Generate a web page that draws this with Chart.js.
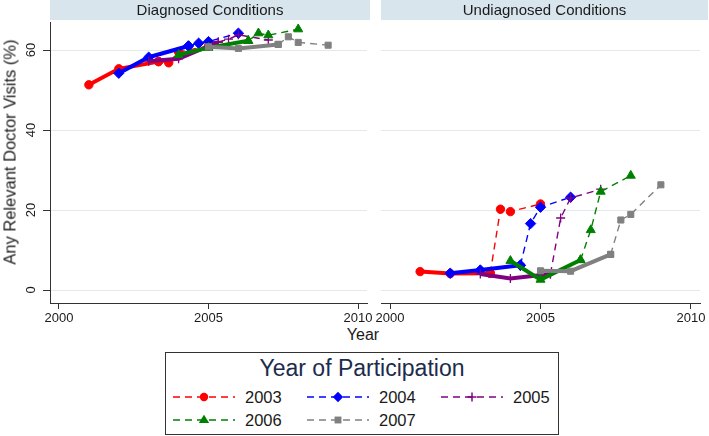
<!DOCTYPE html>
<html>
<head>
<meta charset="utf-8">
<script src="https://cdn.jsdelivr.net/npm/chart.js@4.4.1/dist/chart.umd.min.js"></script>
<style>
  html, body { margin: 0; padding: 0; background: #ffffff; }
  body { width: 709px; height: 436px; position: relative; overflow: hidden; font-family: "Liberation Sans", Arial, sans-serif; }
  canvas { position: absolute; top: 0; }
  #cLeft { left: 0; }
  #cRight { left: 372px; }
  .ytitle { position: absolute; left: 10px; top: 152px; transform: translate(-50%, -50%) rotate(-90deg); white-space: nowrap; font-size: 16.5px; color: #1a1a1a; }
  .xtitle { position: absolute; left: 363px; top: 335px; transform: translate(-50%, -50%); font-size: 16px; color: #1a1a1a; }
  #legend { position: absolute; left: 165px; top: 352px; }
</style>
</head>
<body>
<canvas id="cLeft" width="380" height="322"></canvas>
<canvas id="cRight" width="337" height="322"></canvas>
<div class="ytitle">Any Relevant Doctor Visits (%)</div>
<div class="xtitle">Year</div>
<svg id="legend" width="394" height="83" xmlns="http://www.w3.org/2000/svg"></svg>
<script>
// ---- data ----
const panelTitles = ['Diagnosed Conditions', 'Undiagnosed Conditions'];
const cohortLabels = ['2003', '2004', '2005', '2006', '2007'];
const xTicks = [2000, 2005, 2010];
const yTicks = [0, 20, 40, 60];
const legendTitle = 'Year of Participation';
const xTitle = 'Year';

// observation times for each cohort (first three before/at participation, rest after)
const years2003 = [2001, 2002, 2003.33, 2003.67, 2004, 2005];
const years2004 = [2002, 2003, 2004.33, 2004.67, 2005, 2006];
const years2005 = [2003, 2004, 2005.33, 2005.67, 2006, 2007];
const years2006 = [2004, 2005, 2006.33, 2006.67, 2007, 2008];
const years2007 = [2005, 2006, 2007.33, 2007.67, 2008, 2009];

// Diagnosed conditions (%)
const diag2003 = [51.3, 55.3, 57.1, 56.8, 59.5, 61.0];
const diag2004 = [54.2, 58.2, 61.0, 61.7, 62.1, 64.2];
const diag2005 = [57.2, 57.8, 62.0, 62.7, 63.8, 62.5];
const diag2006 = [58.8, 60.6, 62.3, 64.2, 63.7, 65.2];
const diag2007 = [60.8, 60.4, 61.4, 63.3, 61.9, 61.2];

// Undiagnosed conditions (%)
const undiag2003 = [4.6, 4.1, 4.2, 20.2, 19.6, 21.5];
const undiag2004 = [4.2, 5.0, 6.2, 16.6, 20.7, 23.2];
const undiag2005 = [4.0, 2.9, 4.0, 18.0, 23.0, 25.2];
const undiag2006 = [7.3, 2.6, 7.5, 15.0, 24.6, 28.6];
const undiag2007 = [4.8, 4.7, 8.9, 17.5, 18.9, 26.3];

// ---- styling ----
const FONT = '"Liberation Sans", Arial, sans-serif';
const styles = [
  { color: '#ff0000', point: 'circle',   radius: 4.2, pbw: 1 },
  { color: '#0000ff', point: 'rectRot',  radius: 5.2, pbw: 1 },
  { color: '#800080', point: 'cross',    radius: 4.5, pbw: 1.3 },
  { color: '#008000', point: 'triangle', radius: 5.2, pbw: 1 },
  { color: '#808080', point: 'rect',     radius: 4.3, pbw: 1 }
];
const yearsAll = [years2003, years2004, years2005, years2006, years2007];
const diagAll = [diag2003, diag2004, diag2005, diag2006, diag2007];
const undiagAll = [undiag2003, undiag2004, undiag2005, undiag2006, undiag2007];

function buildDatasets(valuesAll) {
  const ds = [];
  valuesAll.forEach((vals, i) => {
    const st = styles[i];
    const pts = yearsAll[i].map((x, k) => ({ x: x, y: vals[k] }));
    const common = {
      borderColor: st.color, backgroundColor: st.color,
      pointStyle: st.point, pointRadius: st.radius, pointBorderWidth: st.pbw,
      pointBackgroundColor: st.color, pointBorderColor: st.color,
      tension: 0, fill: false
    };
    ds.push(Object.assign({}, common, { label: cohortLabels[i] + ' before', data: pts.slice(0, 3), borderWidth: 4, order: 100 - 2 * i }));
    ds.push(Object.assign({}, common, { label: cohortLabels[i], data: pts.slice(2), borderWidth: 1.4, borderDash: [7, 5], order: 99 - 2 * i }));
  });
  return ds;
}

const headerPlugin = {
  id: 'stripHeader',
  beforeDraw(chart, args, opts) {
    const ctx = chart.ctx, a = chart.chartArea;
    const x0 = a.left, x1 = a.right + (opts.extend || 0);
    ctx.save();
    ctx.fillStyle = '#d9e5ed';
    ctx.fillRect(x0, 0, x1 - x0, 20);
    ctx.fillStyle = '#1a1a1a';
    ctx.font = '15px ' + FONT;
    ctx.textAlign = 'center';
    ctx.textBaseline = 'middle';
    ctx.fillText(opts.text || '', (x0 + x1) / 2, 10.5);
    ctx.restore();
  }
};

function makeChart(id, valuesAll, title, isLeft) {
  return new Chart(document.getElementById(id), {
    type: 'line',
    data: { datasets: buildDatasets(valuesAll) },
    plugins: [headerPlugin],
    options: {
      responsive: false, animation: false, devicePixelRatio: 1,
      layout: { padding: { top: 22, right: isLeft ? 13 : 9, left: 0, bottom: 0 } },
      plugins: {
        legend: { display: false }, tooltip: { enabled: false }, title: { display: false },
        stripHeader: { text: title, extend: isLeft ? 3 : 8 }
      },
      scales: {
        x: {
          type: 'linear', min: 1999.7, max: 2010.3,
          afterBuildTicks: s => { s.ticks = xTicks.map(v => ({ value: v })); },
          afterFit: s => { s.height = 19; },
          ticks: { font: { family: FONT, size: 13 }, color: '#1a1a1a', padding: 2, maxRotation: 0, autoSkip: false, callback: v => String(v) },
          grid: { drawOnChartArea: false, drawTicks: true, tickLength: 6, tickColor: '#333', color: '#333' },
          border: { display: true, color: '#333', width: 1 }
        },
        y: {
          type: 'linear', min: -3.25, max: 67,
          afterBuildTicks: s => { s.ticks = yTicks.map(v => ({ value: v })); },
          afterFit: s => { s.width = isLeft ? 50 : 9; },
          ticks: { display: isLeft, font: { family: FONT, size: 13 }, color: '#1a1a1a', padding: 4, minRotation: 90, maxRotation: 90, crossAlign: 'center', callback: v => String(v) },
          grid: { drawOnChartArea: true, color: '#e1e9ee', lineWidth: 1, drawTicks: isLeft, tickLength: 7, tickColor: '#333' },
          border: { display: isLeft, color: '#333', width: 1 }
        }
      }
    }
  });
}

makeChart('cLeft', diagAll, panelTitles[0], true);
makeChart('cRight', undiagAll, panelTitles[1], false);

// ---- legend (keys + text) ----
(function buildLegend() {
  const svg = document.getElementById('legend');
  const NS = 'http://www.w3.org/2000/svg';
  function el(name, attrs, text) {
    const e = document.createElementNS(NS, name);
    for (const k in attrs) e.setAttribute(k, attrs[k]);
    if (text !== undefined) e.textContent = text;
    svg.appendChild(e);
    return e;
  }
  el('rect', { x: 0.5, y: 0.5, width: 393, height: 82, fill: '#fff', stroke: '#333', 'stroke-width': 1 });
  el('text', { x: 197, y: 24, 'text-anchor': 'middle', 'font-family': FONT, 'font-size': 23, fill: '#1c2c4c' }, legendTitle);
  const cols = [8, 142, 276];
  const rows = [45, 68];
  cohortLabels.forEach((lab, i) => {
    const cx = cols[i % 3], cy = rows[Math.floor(i / 3)];
    const st = styles[i];
    el('line', { x1: cx, y1: cy, x2: cx + 62, y2: cy, stroke: st.color, 'stroke-width': 1.4, 'stroke-dasharray': '7 5' });
    const mx = cx + 31, r = st.radius;
    if (st.point === 'circle') el('circle', { cx: mx, cy: cy, r: r, fill: st.color });
    else if (st.point === 'rectRot') el('polygon', { points: `${mx},${cy - r} ${mx + r},${cy} ${mx},${cy + r} ${mx - r},${cy}`, fill: st.color });
    else if (st.point === 'cross') { el('line', { x1: mx - r, y1: cy, x2: mx + r, y2: cy, stroke: st.color, 'stroke-width': 1.5 }); el('line', { x1: mx, y1: cy - r, x2: mx, y2: cy + r, stroke: st.color, 'stroke-width': 1.5 }); }
    else if (st.point === 'triangle') el('polygon', { points: `${mx},${cy - r} ${mx + r},${cy + r * 0.6} ${mx - r},${cy + r * 0.6}`, fill: st.color });
    else el('rect', { x: mx - r * 0.8, y: cy - r * 0.8, width: r * 1.6, height: r * 1.6, fill: st.color });
    el('text', { x: cx + 72, y: cy + 6, 'font-family': FONT, 'font-size': 16.5, fill: '#1a1a1a' }, lab);
  });
})();
</script>
</body>
</html>
